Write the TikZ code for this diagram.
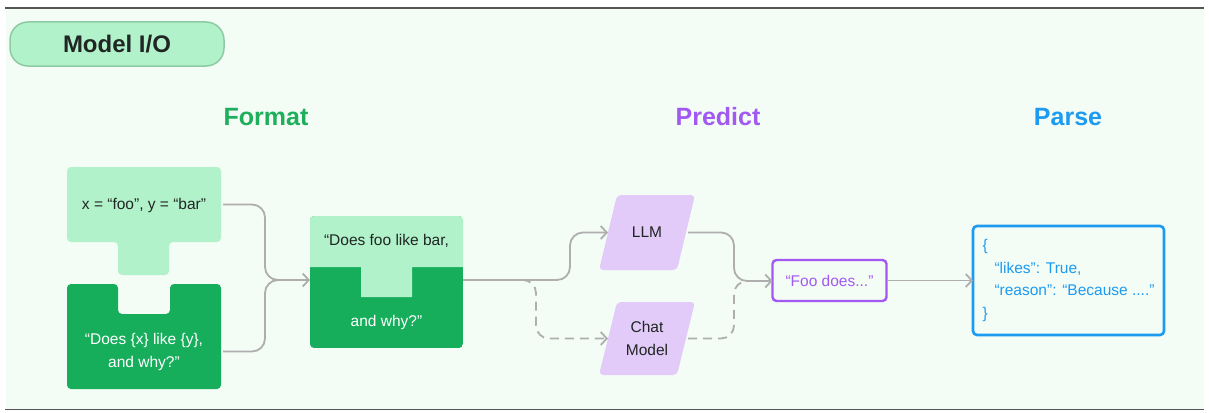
\documentclass[tikz,border=0pt]{standalone}
\usepackage{fontspec}
\setmainfont{Liberation Sans}
\usetikzlibrary{arrows.meta,calc}
\definecolor{bg}{HTML}{F4FCF6}
\definecolor{lgreen}{HTML}{B2F2CB}
\definecolor{dgreen}{HTML}{16AD5B}
\definecolor{pillborder}{HTML}{8DCBA2}
\definecolor{fmtgreen}{HTML}{1DAF5B}
\definecolor{lav}{HTML}{E3CBF9}
\definecolor{purp}{HTML}{A259F2}
\definecolor{blu}{HTML}{1C9BF0}
\definecolor{conngray}{HTML}{AEAEAE}
\definecolor{darktext}{HTML}{1F2623}
\definecolor{rulegray}{HTML}{555555}
\begin{document}
\begin{tikzpicture}[x=1pt,y=-1pt,
  body/.style={font=\fontsize{15.5}{23}\selectfont, inner sep=0pt},
  heading/.style={font=\fontsize{25}{30}\selectfont\bfseries, inner sep=0pt},
  area/.style={inner sep=0pt, outer sep=0pt},
  conn/.style={draw=conngray, line width=1.8pt, rounded corners=13pt, -{Straight Barb[length=6pt,width=13pt]}},
  plainconn/.style={draw=conngray, line width=1.8pt, rounded corners=13pt},
  dconn/.style={plainconn, dash pattern=on 9pt off 6pt},
  dconnarrow/.style={conn, dash pattern=on 9pt off 6pt}
]
\useasboundingbox (0,0) rectangle (1209,412);
% background and rules
\fill[bg] (6,9) rectangle (1204,409);
\draw[rulegray, line width=1.3pt] (5,8) -- (1204,8);
\draw[rulegray, line width=1.3pt] (5,409.5) -- (1204,409.5);

% title pill
\node[area, draw=pillborder, line width=1.5pt, fill=lgreen, rounded corners=18pt,
      minimum width=214pt, minimum height=44pt, text=darktext,
      font=\fontsize{24}{28}\selectfont\bfseries] (title) at (117,44) {Model I/O};

% headings
\node[heading, text=fmtgreen] (fmt) at (266,117) {Format};
\node[heading, text=purp] (pred) at (718,117) {Predict};
\node[heading, text=blu] (prs) at (1068,117) {Parse};

% left light T (variables)
\fill[lgreen, rounded corners=4pt] (67,167) -- (221,167) -- (221,242) -- (169,242) -- (169,275) -- (118,275) -- (118,242) -- (67,242) -- cycle;
\node[area, minimum width=154pt, minimum height=75pt] (xy) at (144,204.5) {};
\node[body, text=darktext] (xytxt) at (144,205) {x = “foo”, y = “bar”};

% left dark U (template)
\fill[dgreen, rounded corners=4pt] (67,284) -- (118,284) -- (118,314) -- (170,314) -- (170,284) -- (221,284) -- (221,389) -- (67,389) -- cycle;
\node[area, minimum width=154pt, minimum height=105pt] (tmpl) at (144,336.5) {};
\node[body, text=white, align=center] (tmpltxt) at (144,351.5) {“Does \{x\} like \{y\},\\and why?”};

% middle combined prompt
\begin{scope}
\clip[rounded corners=4pt] (310,216) rectangle (463,348);
\fill[dgreen] (310,216) rectangle (463,348);
\fill[lgreen] (310,216) -- (463,216) -- (463,267) -- (412,267) -- (412,297) -- (361,297) -- (361,267) -- (310,267) -- cycle;
\end{scope}
\node[area, minimum width=153pt, minimum height=132pt] (mid) at (386.5,282) {};
\node[body, text=darktext] (midtop) at (386.5,241) {“Does foo like bar,};
\node[body, text=white] (midbot) at (386.5,322) {and why?”};

% LLM and Chat Model parallelograms
\fill[lav, rounded corners=4pt] (617,195) -- (695,195) -- (677,270) -- (599,270) -- cycle;
\node[area, body, text=darktext, minimum width=78pt, minimum height=75pt] (llm) at (647,232.5) {LLM};
\fill[lav, rounded corners=4pt] (617,302) -- (695,302) -- (677,375) -- (599,375) -- cycle;
\node[area, body, text=darktext, align=center, minimum width=78pt, minimum height=73pt] (chat) at (647,338.5) {Chat\\Model};

% output string
\node[area, draw=purp, line width=2.4pt, rounded corners=4pt, fill=bg,
      minimum width=114pt, minimum height=41pt, body, text=purp] (foo) at (829.5,280.5) {“Foo does...”};

% parsed JSON
\node[area, draw=blu, line width=2.6pt, rounded corners=4pt, fill=bg,
      minimum width=191pt, minimum height=109pt, body, text=blu, align=left,
      font=\fontsize{15.5}{22.5}\selectfont] (json) at (1068.5,280.5)
      {\{\\\hspace*{12pt}“likes”: True,\\\hspace*{12pt}“reason”: “Because ....”\\\}};

% connectors
\coordinate (j1) at (265,280);
\coordinate (split) at (522,280);
\coordinate (j2) at (734,281);
\draw[conn] ($(xy.east)+(2,0)$) -| (j1) -- (j1 -| mid.west);
\draw[plainconn] ($(tmpl.east |- tmpltxt)+(2,0)$) -| (j1) -- ($(j1 -| mid.west)+(-4,0)$);
\draw[conn] (mid.east |- j1) -| ($(llm.west)+(-38,0)$) -- (llm.west);
\draw[dconnarrow] (split) -| ($(chat.west)+(-72,0)$) -- (chat.west);
\draw[conn] ($(llm.east)+(2,0)$) -| (j2) -- (j2 -| foo.west);
\draw[dconn] ($(chat.east)+(2,0)$) -| (j2) -- ($(j2 -| foo.west)+(-10,0)$);
\draw[conn] (foo.east) -- (json.west |- foo.east);
\end{tikzpicture}
\end{document}
